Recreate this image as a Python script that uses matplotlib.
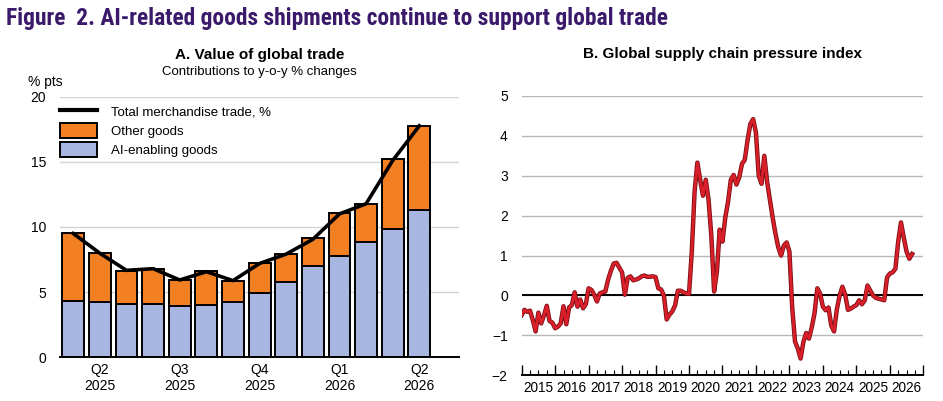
import matplotlib
matplotlib.use('Agg')
import matplotlib.pyplot as plt
import matplotlib.patheffects as pe
from matplotlib.lines import Line2D
from matplotlib.patches import Patch
import numpy as np

plt.rcParams['font.family'] = ['Liberation Sans', 'DejaVu Sans']

# ---------------- Panel A data ----------------
months_a = ['Apr 2025', 'May 2025', 'Jun 2025', 'Jul 2025', 'Aug 2025', 'Sep 2025',
            'Oct 2025', 'Nov 2025', 'Dec 2025', 'Jan 2026', 'Feb 2026', 'Mar 2026',
            'Apr 2026', 'May 2026']
ai_enabling = [4.32, 4.22, 4.11, 4.06, 3.93, 3.98, 4.27, 4.93, 5.78, 7.03, 7.77, 8.83, 9.85, 11.28]
other_goods = [5.19, 3.80, 2.53, 2.71, 2.00, 2.62, 1.61, 2.33, 2.14, 2.09, 3.29, 2.91, 5.33, 6.47]
total_trade = [9.5, 7.98, 6.67, 6.8, 5.93, 6.57, 5.88, 7.2, 7.92, 9.05, 11.0, 11.78, 15.1, 17.76]
quarter_mid_months = ['May 2025', 'Aug 2025', 'Nov 2025', 'Feb 2026', 'May 2026']
quarter_labels = ['Q2\n2025', 'Q3\n2025', 'Q4\n2025', 'Q1\n2026', 'Q2\n2026']

# ---------------- Panel B data ----------------
gscpi_start_year = 2015
gscpi = [
    -0.49, -0.36, -0.41, -0.38, -0.62, -0.90, -0.43, -0.70, -0.50, -0.26, -0.64, -0.68,  # 2015
    -0.82, -0.78, -0.70, -0.27, -0.72, -0.30, -0.24, 0.08, -0.28, -0.10, -0.32, -0.22,   # 2016
    0.18, 0.14, 0.02, -0.15, 0.05, 0.08, 0.10, 0.40, 0.62, 0.80, 0.82, 0.70,             # 2017
    0.58, 0.02, 0.44, 0.48, 0.38, 0.40, 0.43, 0.48, 0.50, 0.47, 0.47, 0.48,              # 2018
    0.46, 0.18, 0.15, 0.00, -0.60, -0.48, -0.40, -0.25, 0.12, 0.12, 0.08, 0.05,          # 2019
    0.04, 1.10, 2.60, 3.33, 2.90, 2.50, 2.90, 2.40, 1.50, 0.10, 0.60, 1.65,              # 2020
    1.35, 1.95, 2.35, 2.90, 3.02, 2.78, 2.96, 3.30, 3.40, 3.90, 4.30, 4.42,              # 2021
    4.08, 3.00, 2.80, 3.50, 2.85, 2.40, 1.95, 1.55, 1.21, 1.00, 1.25, 1.33,              # 2022
    1.10, -0.30, -1.15, -1.33, -1.58, -1.17, -0.94, -1.08, -0.80, -0.45, 0.18, 0.05,     # 2023
    -0.28, -0.37, -0.30, -0.75, -0.90, -0.35, 0.00, 0.22, 0.02, -0.36, -0.33, -0.28,     # 2024
    -0.24, -0.12, -0.22, -0.12, 0.25, 0.12, 0.00, -0.06, -0.08, -0.10, -0.12, 0.45,      # 2025
    0.55, 0.58, 0.67, 1.35, 1.83, 1.45, 1.10, 0.92, 1.04,                                # 2026
]
year_labels = [str(y) for y in range(2015, 2027)]

# ---------------- Styling ----------------
ORANGE = '#F28023'
BLUE = '#A7B7E1'
PURPLE = '#3B1A6B'
RED = '#D9202A'
DARKRED = '#7A0E14'

fig = plt.figure(figsize=(9.43, 4.01), dpi=100)

title = fig.text(0.006, 0.955,
                 'Figure  2. AI-related goods shipments continue to support global trade',
                 family=['Roboto Condensed', 'Liberation Sans', 'DejaVu Sans'],
                 fontsize=15.5, fontweight='bold', color=PURPLE, ha='left', va='center')
# fit title width to the reference (~663 px)
renderer = fig.canvas.get_renderer()
tw = title.get_window_extent(renderer).width
title.set_fontsize(15.5 * 663.0 / tw)

# ---------------- Panel A ----------------
axA = fig.add_axes([0.0636, 0.109, 0.4234, 0.650])
x = np.arange(len(months_a))
w = 0.82
axA.bar(x, ai_enabling, width=w, color=BLUE, edgecolor='black', linewidth=1.4, zorder=2)
axA.bar(x, other_goods, width=w, bottom=ai_enabling, color=ORANGE, edgecolor='black',
        linewidth=1.4, zorder=2)
axA.plot(x, total_trade, color='black', linewidth=2.6, zorder=3)
axA.set_xlim(-0.5, len(months_a) + 0.5)
axA.set_ylim(0, 20)
axA.set_yticks([0, 5, 10, 15, 20])
axA.grid(axis='y', color='#D4D4D4', linewidth=1.0, zorder=0)
axA.set_axisbelow(True)
for s in ['left', 'right', 'top']:
    axA.spines[s].set_visible(False)
axA.spines['bottom'].set_linewidth(1.4)
axA.spines['bottom'].set_zorder(4)
qpos = [months_a.index(m) for m in quarter_mid_months]
axA.set_xticks(qpos, quarter_labels)
axA.tick_params(axis='x', length=0, pad=4, labelsize=10)
axA.tick_params(axis='y', length=0, pad=10, labelsize=10)
axA.text(-0.08, 1.058, '% pts', transform=axA.transAxes, fontsize=10, ha='left', va='center')
axA.text(0.5, 1.16, 'A. Value of global trade', transform=axA.transAxes, fontsize=11,
         fontweight='bold', ha='center', va='center')
axA.text(0.5, 1.093, 'Contributions to y-o-y % changes', transform=axA.transAxes,
         fontsize=9.5, ha='center', va='center')
handles = [Line2D([], [], color='black', linewidth=3),
           Patch(facecolor=ORANGE, edgecolor='black', linewidth=1.4),
           Patch(facecolor=BLUE, edgecolor='black', linewidth=1.4)]
axA.legend(handles, ['Total merchandise trade, %', 'Other goods', 'AI-enabling goods'],
           loc='upper left', bbox_to_anchor=(0.0, 0.972), frameon=False, fontsize=9.5,
           handlelength=2.8, handleheight=1.3, labelspacing=0.35, handletextpad=1.1,
           borderaxespad=0, borderpad=0)

# ---------------- Panel B ----------------
axB = fig.add_axes([0.5532, 0.0641, 0.4259, 0.6965])
xb = gscpi_start_year + np.arange(len(gscpi)) / 12.0
axB.plot(xb, gscpi, color=RED, linewidth=2.0, zorder=3,
         path_effects=[pe.Stroke(linewidth=3.2, foreground=DARKRED), pe.Normal()])
axB.set_xlim(2015, 2027)
axB.set_ylim(-2, 5)
axB.set_yticks(range(-2, 6))
axB.grid(axis='y', color='#B8B8B8', linewidth=1.0, zorder=0)
axB.axhline(0, color='black', linewidth=1.4, zorder=2)
for s in ['left', 'right', 'top']:
    axB.spines[s].set_visible(False)
axB.spines['bottom'].set_linewidth(1.4)
axB.set_xticks(np.arange(2015, 2028), [''] * 13)
axB.set_xticks(np.arange(2015, 2027, 0.25), minor=True)
axB.tick_params(axis='x', which='major', direction='in', length=7, width=1.0)
axB.tick_params(axis='x', which='minor', direction='in', length=3.5, width=0.8)
axB.tick_params(axis='y', length=0, pad=10, labelsize=10)
sec = axB.secondary_xaxis('bottom')
sec.set_xticks(np.arange(2015, 2027) + 0.5, year_labels)
sec.tick_params(length=0, pad=4, labelsize=9.8)
sec.spines['bottom'].set_visible(False)
axB.text(0.5, 1.150, 'B. Global supply chain pressure index', transform=axB.transAxes,
         fontsize=11, fontweight='bold', ha='center', va='center')

fig.savefig('out.png', dpi=100)
